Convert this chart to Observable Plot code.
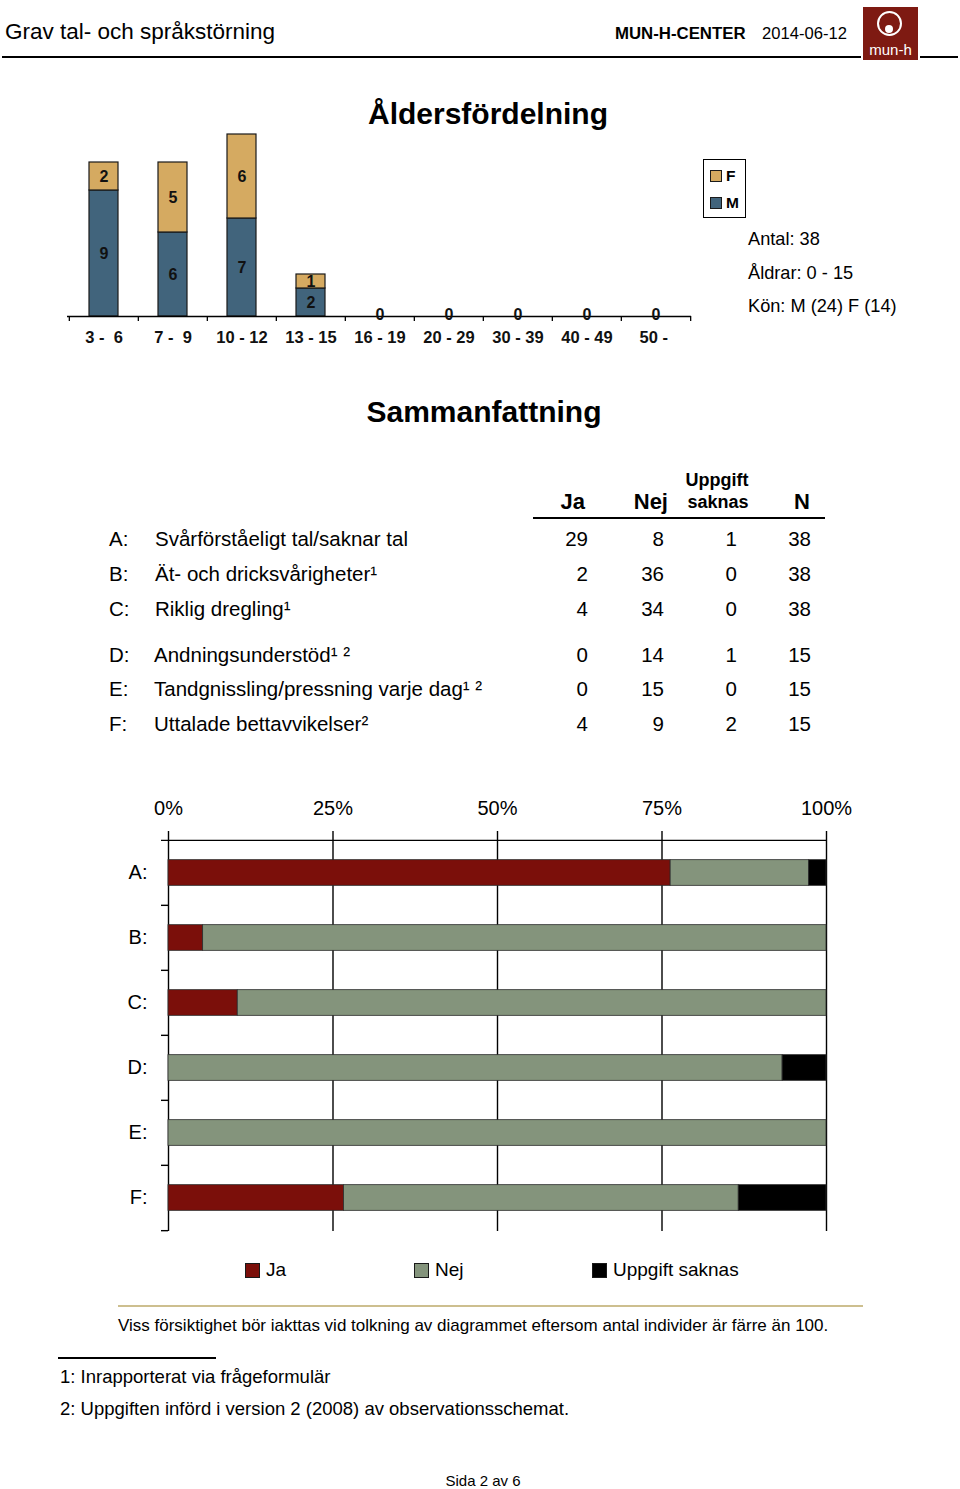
<!DOCTYPE html>
<html><head><meta charset="utf-8">
<script src="https://cdn.jsdelivr.net/npm/d3@7"></script>
<script src="https://cdn.jsdelivr.net/npm/@observablehq/plot@0.6"></script>
<style>
body{margin:0;background:#fff;}
#page{position:relative;width:960px;height:1489px;overflow:hidden;font-family:"Liberation Sans",Arial,Helvetica,sans-serif;color:#000;background:#fff;}
.t{position:absolute;white-space:pre;line-height:1.2;}
.b{font-weight:bold;}
</style></head><body><div id="page"></div>
<script>
// ---------- data ----------
const ageGroups = ["3-6","7-9","10-12","13-15","16-19","20-29","30-39","40-49","50-"];
const ageLabels = ["3 -  6","7 -  9","10 - 12","13 - 15","16 - 19","20 - 29","30 - 39","40 - 49","50 - "];
const maleCounts = [9,6,7,2,0,0,0,0,0];
const femaleCounts = [2,5,6,1,0,0,0,0,0];
const sexes = ["F","M"];
const sexColors = ["#D5AA61","#41647C"];
const statsLines = ["Antal: 38","Åldrar: 0 - 15","Kön: M (24) F (14)"];

const rowKeys = ["A","B","C","D","E","F"];
const rowLabels = ["Svårförståeligt tal/saknar tal","Ät- och dricksvårigheter¹","Riklig dregling¹","Andningsunderstöd¹ ²","Tandgnissling/pressning varje dag¹ ²","Uttalade bettavvikelser²"];
const jaCounts = [29,2,4,0,0,4];
const nejCounts = [8,36,34,14,15,9];
const saknasCounts = [1,0,0,1,0,2];
const nCounts = [38,38,38,15,15,15];
const responses = ["Ja","Nej","Uppgift saknas"];
const responseColors = ["#7B0F0A","#84947C","#000000"];
const pctTicks = [0,0.25,0.5,0.75,1];
const pctLabels = ["0%","25%","50%","75%","100%"];

const FONT = '"Liberation Sans",Arial,Helvetica,sans-serif';
const page = document.getElementById("page");

function txt(s, x, yc, size, opts = {}) {
  const d = document.createElement("div");
  d.className = "t" + (opts.bold ? " b" : "");
  d.textContent = s;
  d.style.fontSize = size + "px";
  d.style.top = (yc - 0.59 * size) + "px";
  if (opts.color) d.style.color = opts.color;
  if (opts.align === "right") { d.style.right = (960 - x) + "px"; d.style.textAlign = "right"; }
  else if (opts.align === "center") { d.style.left = (x - 300) + "px"; d.style.width = "600px"; d.style.textAlign = "center"; }
  else d.style.left = x + "px";
  page.appendChild(d);
  return d;
}
function box(x, y, w, h, css) {
  const d = document.createElement("div");
  d.style.position = "absolute";
  d.style.left = x + "px"; d.style.top = y + "px";
  d.style.width = w + "px"; d.style.height = h + "px";
  Object.assign(d.style, css || {});
  page.appendChild(d);
  return d;
}

// ---------- header ----------
txt("Grav tal- och språkstörning", 5, 31, 22.5);
txt("MUN-H-CENTER", 615, 34, 16.8, {bold: true});
txt("2014-06-12", 762, 34, 16.6);
box(2, 56, 859, 2, {background: "#000"});
box(920, 56, 38, 2, {background: "#000"});
const logo = box(863, 7, 55, 53, {background: "#7E1A12"});
const ring = document.createElement("div");
Object.assign(ring.style, {position: "absolute", left: "14px", top: "4px", width: "25px", height: "25px", border: "2px solid #fff", borderRadius: "50%", boxSizing: "border-box"});
logo.appendChild(ring);
const dot = document.createElement("div");
Object.assign(dot.style, {position: "absolute", left: "22px", top: "18px", width: "8px", height: "8px", background: "#fff", borderRadius: "50%"});
logo.appendChild(dot);
const lt = document.createElement("div");
lt.textContent = "mun-h";
Object.assign(lt.style, {position: "absolute", left: "0", width: "55px", top: "34px", textAlign: "center", color: "#fff", fontSize: "15px", lineHeight: "18px"});
logo.appendChild(lt);

// ---------- Åldersfördelning ----------
txt("Åldersfördelning", 488, 114, 30, {bold: true, align: "center"});

const ageData = [];
ageGroups.forEach((g, i) => ageData.push({age: g, sex: "M", count: maleCounts[i]}));
ageGroups.forEach((g, i) => ageData.push({age: g, sex: "F", count: femaleCounts[i]}));
const zeroAges = ageGroups.filter((g, i) => maleCounts[i] + femaleCounts[i] === 0);

const W1 = 700, L1 = 67, R1 = 9;
const step1 = (W1 - L1 - R1) / ageGroups.length;
const ageChart = Plot.plot({
  width: W1, height: 235, marginLeft: L1, marginRight: R1, marginTop: 14, marginBottom: 39,
  x: {domain: ageGroups, padding: 0, axis: null},
  y: {domain: [0, 13], axis: null},
  color: {domain: sexes, range: sexColors},
  style: {background: "transparent", fontFamily: FONT, overflow: "visible", whiteSpace: "pre", color: "#000"},
  marks: [
    Plot.barY(ageData.filter(d => d.count > 0), Plot.stackY({x: "age", y: "count", fill: "sex", stroke: "#1a1a1a", strokeWidth: 1.2, insetLeft: 20, insetRight: 20})),
    Plot.text(ageData.filter(d => d.count > 0), Plot.stackY({x: "age", y: "count", z: "sex", text: d => String(d.count), fontWeight: "bold", fontSize: 16, fill: "#111"})),
    Plot.ruleY([0], {stroke: "#000", strokeWidth: 1.5}),
    Plot.ruleX(ageGroups, {x: d => d, y1: 0, y2: 0, insetBottom: -5, dx: -step1 / 2, stroke: "#000", strokeWidth: 1.3}),
    Plot.ruleX([ageGroups[ageGroups.length - 1]], {x: d => d, y1: 0, y2: 0, insetBottom: -5, dx: step1 / 2, stroke: "#000", strokeWidth: 1.3}),
    Plot.text(zeroAges, {x: d => d, y: 0, text: () => "0", dy: -2, fontWeight: "bold", fontSize: 16, fill: "#111"}),
    Plot.text(ageGroups, {x: d => d, y: 0, text: d => ageLabels[ageGroups.indexOf(d)], dy: 21, fontWeight: "bold", fontSize: 16.5, fill: "#111"})
  ]
});
Object.assign(ageChart.style, {position: "absolute", left: "0px", top: "120px"});
page.appendChild(ageChart);

// legend box (F / M)
box(703, 159, 43, 59, {border: "1px solid #000", boxSizing: "border-box"});
sexes.forEach((s, i) => {
  box(710, 170 + i * 27, 12, 12, {background: sexColors[i], border: "1px solid #1a1a1a", boxSizing: "border-box"});
  txt(s, 726, 176 + i * 27, 15.5, {bold: true});
});
statsLines.forEach((s, i) => txt(s, 748, 240 + i * 33.5, 18.2));

// ---------- Sammanfattning ----------
txt("Sammanfattning", 484, 412, 30, {bold: true, align: "center"});

txt("Ja", 585, 502, 22, {bold: true, align: "right"});
txt("Nej", 668, 502, 22, {bold: true, align: "right"});
txt("Uppgift", 717, 481, 18, {bold: true, align: "center"});
txt("saknas", 718, 503, 18, {bold: true, align: "center"});
txt("N", 810, 502, 22, {bold: true, align: "right"});
box(533, 517, 292, 2, {background: "#000"});

const rowY = [539, 574, 609, 655, 689, 724];
rowKeys.forEach((k, i) => {
  const y = rowY[i];
  txt(k + ":", 109, y, 20.5);
  txt(rowLabels[i], i < 3 ? 155 : 154, y, 20.5);
  txt(String(jaCounts[i]), 588, y, 20.5, {align: "right"});
  txt(String(nejCounts[i]), 664, y, 20.5, {align: "right"});
  txt(String(saknasCounts[i]), 737, y, 20.5, {align: "right"});
  txt(String(nCounts[i]), 811, y, 20.5, {align: "right"});
});

// ---------- stacked percentage bars ----------
const rowData = [];
rowKeys.forEach((k, i) => {
  [jaCounts[i], nejCounts[i], saknasCounts[i]].forEach((c, j) => rowData.push({row: k, resp: responses[j], count: c}));
});
const W2 = 960, L2 = 168, R2 = 134, T2 = 59, B2 = 9, H2 = 460;
const step2 = (H2 - T2 - B2) / rowKeys.length;
const barH = 26;
const pctChart = Plot.plot({
  width: W2, height: H2, marginLeft: L2, marginRight: R2, marginTop: T2, marginBottom: B2,
  x: {domain: [0, 1], axis: null},
  y: {domain: rowKeys, padding: 0, axis: null},
  color: {domain: responses, range: responseColors},
  style: {background: "transparent", fontFamily: FONT, overflow: "visible", color: "#000"},
  marks: [
    Plot.ruleX(pctTicks, {insetTop: -8, stroke: "#000", strokeWidth: 1.4}),
    Plot.ruleY([rowKeys[0]], {y: d => d, x1: 0, x2: 1, insetLeft: -7, dy: -step2 / 2, stroke: "#000", strokeWidth: 1.4}),
    Plot.ruleY(rowKeys.slice(1), {y: d => d, x1: 0, x2: 0, insetLeft: -7, dy: -step2 / 2, stroke: "#000", strokeWidth: 1.4}),
    Plot.ruleY([rowKeys[rowKeys.length - 1]], {y: d => d, x1: 0, x2: 0, insetLeft: -7, dy: step2 / 2, stroke: "#000", strokeWidth: 1.4}),
    Plot.barX(rowData.filter(d => d.count > 0), Plot.stackX({offset: "normalize", x: "count", y: "row", fill: "resp", stroke: "#2a2a2a", strokeWidth: 0.8, insetTop: (step2 - barH) / 2, insetBottom: (step2 - barH) / 2})),
    Plot.text(rowKeys, {y: d => d, frameAnchor: "left", text: d => d + ":", textAnchor: "end", dx: -21, fontSize: 20, fill: "#000"}),
    Plot.text(pctTicks, {x: d => d, frameAnchor: "top", lineAnchor: "middle", text: d => pctLabels[pctTicks.indexOf(d)], dy: -31, fontSize: 20, fill: "#000"})
  ]
});
Object.assign(pctChart.style, {position: "absolute", left: "0px", top: "780px"});
page.appendChild(pctChart);

// legend
const legX = [245, 414, 592];
responses.forEach((r, i) => {
  box(legX[i], 1263, 15, 15, {background: responseColors[i], border: "1px solid #1a1a1a", boxSizing: "border-box"});
  txt(r, legX[i] + 21, 1270, 19);
});

// caption & footnotes
box(118, 1305, 745, 2, {background: "#CDBF8F"});
txt("Viss försiktighet bör iakttas vid tolkning av diagrammet eftersom antal individer är färre än 100.", 118, 1326, 17);
box(58, 1357, 158, 2, {background: "#000"});
txt("1: Inrapporterat via frågeformulär", 60, 1377, 18.5);
txt("2: Uppgiften införd i version 2 (2008) av observationsschemat.", 60, 1409, 18.5);
txt("Sida 2 av 6", 483, 1481, 15, {align: "center"});
</script>
</body></html>
